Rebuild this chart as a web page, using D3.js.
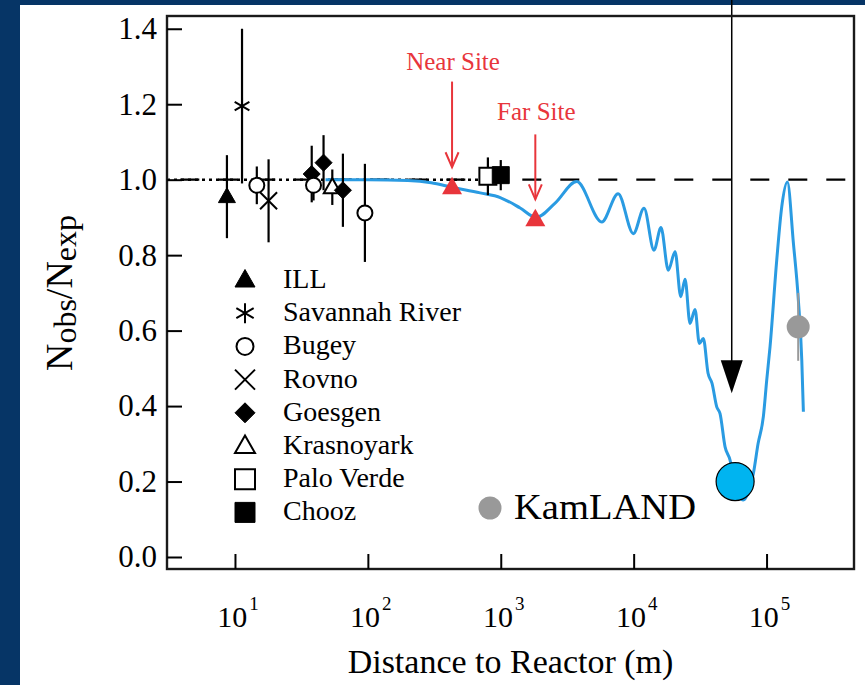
<!DOCTYPE html>
<html>
<head>
<meta charset="utf-8">
<script src="https://cdn.jsdelivr.net/npm/d3@7"></script>
<style>
  body { margin: 0; background: #063566; }
  svg { display: block; }
  text { font-family: "Liberation Serif", "Times New Roman", serif; }
</style>
</head>
<body>
<script>
var width = 865;
var height = 685;

// experiments (legend order) and their marker kinds
var experiments = ["ILL", "Savannah River", "Bugey", "Rovno", "Goesgen", "Krasnoyark", "Palo Verde", "Chooz"];
var markers     = ["triUp", "asterisk", "circle", "cross", "diamond", "triOpen", "squareOpen", "square"];

// measured points: experiment, distance (m), Nobs/Nexp, error
var ptExperiment = ["ILL", "Savannah River", "Bugey", "Rovno", "Goesgen", "Bugey", "Goesgen", "Krasnoyark", "Goesgen", "Bugey", "Palo Verde", "Chooz"];
var ptDistance   = [8.7, 11.3, 14.6, 17.9, 37.8, 39, 46.4, 54, 64.9, 95, 800, 1000];
var ptRatio      = [0.955, 1.195, 0.985, 0.944, 1.015, 0.985, 1.045, 0.98, 0.972, 0.912, 1.009, 1.012];
var ptError      = [0.11, 0.205, 0.05, 0.11, 0.075, 0.04, 0.073, 0.047, 0.097, 0.13, 0.05, 0.04];

// oscillation curve
var curveDistance = [48, 100, 200, 300, 430, 700, 1000, 1400, 1845, 2565, 3730, 5755, 7640, 9950, 11970, 14220,
  16060, 18230, 20500, 22610, 24370, 26560, 28960, 31200, 33440, 36290, 38890, 42180, 44670, 48730, 53130,
  57940, 66780, 72580, 79630, 86300, 94600, 100300, 106200, 119300, 130100, 143400, 159300, 173500, 184100, 189300];
var curveRatio = [1.0, 1.0, 0.998, 0.992, 0.98, 0.965, 0.952, 0.925, 0.90, 0.938, 0.995, 0.888, 0.963, 0.857, 0.924, 0.813,
  0.873, 0.760, 0.809, 0.690, 0.736, 0.619, 0.656, 0.566, 0.579, 0.487, 0.46, 0.398, 0.38, 0.292, 0.257,
  0.19, 0.151, 0.17, 0.222, 0.30, 0.372, 0.469, 0.557, 0.787, 0.928, 0.994, 0.831, 0.681, 0.522, 0.385];

// planned sites and KamLAND
var siteNames    = ["Near Site", "Far Site"];
var siteDistance = [430, 1820];
var siteRatio    = [0.98, 0.895];
var siteArrowTop = [1.26, 1.12];
var kamDistance = 173000, kamRatio = 0.61, kamError = 0.09;
var markDistance = 58000, markRatio = 0.20;
var arrowDistance = 54700, arrowTip = 0.434;

var xTicks = [10, 100, 1000, 10000, 100000];
var xExp   = ["1", "2", "3", "4", "5"];
var yTicks = [0.0, 0.2, 0.4, 0.6, 0.8, 1.0, 1.2, 1.4];

var plotLeft = 167, plotRight = 854, plotTop = 16, plotBottom = 569;

var x = d3.scaleLog().domain([3.08, 455000]).range([plotLeft, plotRight]);
var y = d3.scaleLinear().domain([-0.0318, 1.4338]).range([plotBottom, plotTop]);

var svg = d3.select("body").append("svg")
      .attr("width", width)
      .attr("height", height);

svg.append("rect").attr("x", 20).attr("y", 5).attr("width", width - 20).attr("height", height - 5)
   .attr("fill", "#ffffff");

// reference line at 1
svg.append("line")
   .attr("x1", plotLeft).attr("x2", plotRight).attr("y1", y(1)).attr("y2", y(1))
   .attr("stroke", "#000").attr("stroke-width", 2.2)
   .attr("stroke-dasharray", "19,19").attr("stroke-dashoffset", 24.7);
svg.append("line")
   .attr("x1", plotLeft).attr("x2", x(900)).attr("y1", y(1)).attr("y2", y(1))
   .attr("stroke", "#000").attr("stroke-width", 2.5)
   .attr("stroke-dasharray", "3,4");

// blue curve
var line = d3.line()
   .x(function (d) { return x(d[0]); })
   .y(function (d) { return y(d[1]); })
   .curve(d3.curveMonotoneX);
svg.append("path")
   .datum(d3.zip(curveDistance, curveRatio))
   .attr("d", line)
   .attr("fill", "none").attr("stroke", "#2a9be2").attr("stroke-width", 3);

// marker shapes
function markerPath(kind, s) {
  var h = s / 2;
  if (kind == "triUp" || kind == "triOpen")
    return "M0," + (-h * 1.05) + "L" + h + "," + (h * 0.7) + "L" + (-h) + "," + (h * 0.7) + "Z";
  if (kind == "diamond") return "M0," + (-h) + "L" + h + ",0L0," + h + "L" + (-h) + ",0Z";
  if (kind == "square" || kind == "squareOpen") return "M" + (-h) + "," + (-h) + "h" + s + "v" + s + "h" + (-s) + "Z";
  if (kind == "cross") return "M" + (-h) + "," + (-h) + "L" + h + "," + h + "M" + h + "," + (-h) + "L" + (-h) + "," + h;
  if (kind == "asterisk") {
    var c = h * Math.cos(Math.PI / 6), sn = h * Math.sin(Math.PI / 6);
    return "M0," + (-h) + "V" + h + "M" + (-c) + "," + (-sn) + "L" + c + "," + sn + "M" + (-c) + "," + sn + "L" + c + "," + (-sn);
  }
  if (kind == "circle") return d3.arc()({innerRadius: 0, outerRadius: h, startAngle: 0, endAngle: 2 * Math.PI});
  return "";
}
function drawMarker(g, kind, s) {
  var filled = (kind == "triUp" || kind == "diamond" || kind == "square");
  g.append("path").attr("d", markerPath(kind, s))
   .attr("fill", filled ? "#000" : (kind == "asterisk" || kind == "cross") ? "none" : "#fff")
   .attr("stroke", "#000").attr("stroke-width", filled ? 1 : 2);
}

// error bars and data points
var pts = ptDistance.map(function (d, i) {
  return {L: d, r: ptRatio[i], e: ptError[i], kind: markers[experiments.indexOf(ptExperiment[i])]};
});
svg.selectAll(".err").data(pts).enter().append("line")
   .attr("x1", function (d) { return x(d.L); }).attr("x2", function (d) { return x(d.L); })
   .attr("y1", function (d) { return y(d.r + d.e); }).attr("y2", function (d) { return y(d.r - d.e); })
   .attr("stroke", "#000").attr("stroke-width", 2.2);
pts.forEach(function (d) {
  var g = svg.append("g").attr("transform", "translate(" + x(d.L) + "," + y(d.r) + ")");
  var s = d.kind == "circle" ? 15 : d.kind == "diamond" ? 17 : 17;
  drawMarker(g, d.kind, s);
});

// KamLAND
svg.append("line")
   .attr("x1", x(kamDistance)).attr("x2", x(kamDistance))
   .attr("y1", y(kamRatio + kamError)).attr("y2", y(kamRatio - kamError))
   .attr("stroke", "#999").attr("stroke-width", 2);
svg.append("circle").attr("cx", x(kamDistance)).attr("cy", y(kamRatio)).attr("r", 11.5).attr("fill", "#999");

// red site markers and arrows
var red = "#e8353b";
siteNames.forEach(function (name, i) {
  var cx = x(siteDistance[i]), cy = y(siteRatio[i]);
  var arrowTop = y(siteArrowTop[i]);
  svg.append("path").attr("d", markerPath("triUp", 20)).attr("transform", "translate(" + cx + "," + cy + ")")
     .attr("fill", red);
  svg.append("line").attr("x1", cx).attr("x2", cx).attr("y1", arrowTop).attr("y2", cy - 20)
     .attr("stroke", red).attr("stroke-width", 2);
  svg.append("path").attr("d", "M" + (cx - 6.5) + "," + (cy - 35) + "L" + cx + "," + (cy - 20) + "L" + (cx + 6.5) + "," + (cy - 35))
     .attr("fill", "none").attr("stroke", red).attr("stroke-width", 2);
  svg.append("text").attr("x", cx + 1).attr("y", arrowTop - 12 - i * 2).attr("text-anchor", "middle")
     .attr("font-size", 25).attr("fill", red).text(name);
});

// black arrow and cyan marker
var ax = x(arrowDistance);
svg.append("line").attr("x1", ax).attr("x2", ax).attr("y1", 0).attr("y2", y(arrowTip) - 20)
   .attr("stroke", "#000").attr("stroke-width", 1.5);
svg.append("path")
   .attr("d", "M" + (ax - 11) + "," + (y(arrowTip) - 33) + "L" + (ax + 11) + "," + (y(arrowTip) - 33) + "L" + ax + "," + y(arrowTip) + "Z")
   .attr("fill", "#000");
svg.append("circle").attr("cx", x(markDistance)).attr("cy", y(markRatio)).attr("r", 19)
   .attr("fill", "#00b4f0").attr("stroke", "#000").attr("stroke-width", 1.2);

// frame
svg.append("rect").attr("x", plotLeft).attr("y", plotTop).attr("width", plotRight - plotLeft).attr("height", plotBottom - plotTop)
   .attr("fill", "none").attr("stroke", "#1a1a1a").attr("stroke-width", 2.4);

// axes
var yAxis = svg.append("g").attr("transform", "translate(" + plotLeft + ",0)")
   .call(d3.axisLeft(y).tickValues(yTicks).tickSize(-15).tickPadding(10).tickFormat(d3.format(".1f")));
var xAxis = svg.append("g").attr("transform", "translate(0," + plotBottom + ")")
   .call(d3.axisBottom(x).tickValues(xTicks).tickSize(-15).tickFormat(""));
[yAxis, xAxis].forEach(function (a) {
  a.select(".domain").remove();
  a.selectAll(".tick line").attr("stroke", "#000").attr("stroke-width", 2);
});
yAxis.selectAll(".tick text").attr("font-size", 31).attr("fill", "#000")
   .attr("font-family", "Liberation Serif, Times New Roman, serif");

var xl = svg.selectAll(".xlab").data(xTicks).enter().append("text")
   .attr("x", function (d) { return x(d) + 3; }).attr("y", 627)
   .attr("text-anchor", "middle").attr("font-size", 30);
xl.append("tspan").text("10");
xl.append("tspan").attr("dx", 2).attr("dy", -17).attr("font-size", 19).text(function (d, i) { return xExp[i]; });

svg.append("text").attr("x", (plotLeft + plotRight) / 2).attr("y", 673).attr("text-anchor", "middle")
   .attr("font-size", 34).text("Distance to Reactor (m)");

var yt = svg.append("text").attr("transform", "translate(72,293) rotate(-90)").attr("text-anchor", "middle")
   .attr("font-size", 38);
yt.append("tspan").text("N");
yt.append("tspan").attr("font-size", 32).attr("dy", 4).text("obs");
yt.append("tspan").attr("dy", -4).text("/N");
yt.append("tspan").attr("font-size", 32).attr("dy", 4).text("exp");

// legend
var legend = svg.append("g");
experiments.forEach(function (name, i) {
  var cy = 280 + i * 33.2;
  var g = legend.append("g").attr("transform", "translate(245," + cy + ")");
  drawMarker(g, markers[i], markers[i] == "circle" ? 17 : 20);
  legend.append("text").attr("x", 283).attr("y", cy + 8).attr("font-size", 28).text(name);
});
legend.append("circle").attr("cx", 490).attr("cy", 508).attr("r", 11.5).attr("fill", "#999");
legend.append("text").attr("x", 514).attr("y", 519).attr("font-size", 35)
   .attr("textLength", 182).attr("lengthAdjust", "spacingAndGlyphs").text("KamLAND");
</script>
</body>
</html>
